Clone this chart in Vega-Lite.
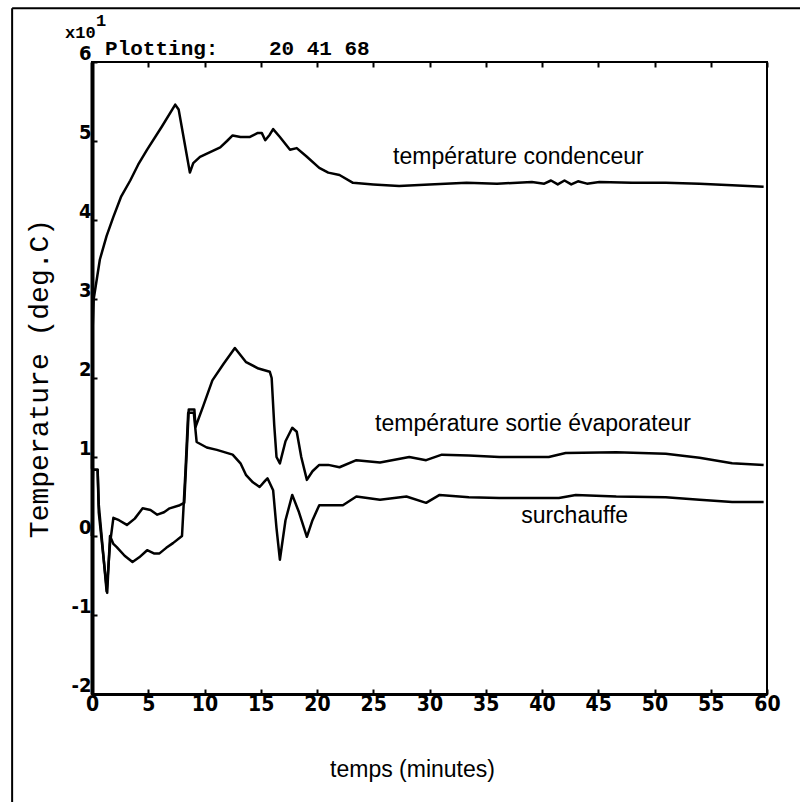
{
  "$schema": "https://vega.github.io/schema/vega-lite/v6.json",
  "autosize": "none",
  "width": 675,
  "height": 632,
  "padding": {"left": 92, "top": 62, "right": 33, "bottom": 108},
  "background": "white",
  "config": {
    "view": {"stroke": "black", "strokeWidth": 2},
    "axis": {"grid": false, "domainColor": "black", "tickColor": "black", "labelColor": "black", "titleColor": "black"}
  },
  "datasets": {
    "series": [
      {"s": "cond", "t": 0, "v": 0.85}, {"s": "cond", "t": 0.05, "v": 2.6}, {"s": "cond", "t": 0.15, "v": 3.0}, {"s": "cond", "t": 0.7, "v": 3.5}, {"s": "cond", "t": 1.3, "v": 3.8}, {"s": "cond", "t": 1.9, "v": 4.04}, {"s": "cond", "t": 2.6, "v": 4.3}, {"s": "cond", "t": 3.4, "v": 4.5}, {"s": "cond", "t": 4.1, "v": 4.7}, {"s": "cond", "t": 4.9, "v": 4.89}, {"s": "cond", "t": 6.2, "v": 5.18}, {"s": "cond", "t": 7.4, "v": 5.46}, {"s": "cond", "t": 7.7, "v": 5.4}, {"s": "cond", "t": 8.2, "v": 5.0}, {"s": "cond", "t": 8.7, "v": 4.6}, {"s": "cond", "t": 9.0, "v": 4.72}, {"s": "cond", "t": 9.6, "v": 4.8}, {"s": "cond", "t": 10.5, "v": 4.86}, {"s": "cond", "t": 11.4, "v": 4.92}, {"s": "cond", "t": 12.0, "v": 5.0}, {"s": "cond", "t": 12.5, "v": 5.07}, {"s": "cond", "t": 13.2, "v": 5.05}, {"s": "cond", "t": 14.0, "v": 5.05}, {"s": "cond", "t": 14.7, "v": 5.1}, {"s": "cond", "t": 15.1, "v": 5.1}, {"s": "cond", "t": 15.4, "v": 5.01}, {"s": "cond", "t": 15.8, "v": 5.08}, {"s": "cond", "t": 16.1, "v": 5.15}, {"s": "cond", "t": 16.7, "v": 5.05}, {"s": "cond", "t": 17.6, "v": 4.89}, {"s": "cond", "t": 18.2, "v": 4.91}, {"s": "cond", "t": 19.1, "v": 4.8}, {"s": "cond", "t": 20.2, "v": 4.66}, {"s": "cond", "t": 21.0, "v": 4.6}, {"s": "cond", "t": 22.0, "v": 4.57}, {"s": "cond", "t": 23.2, "v": 4.47}, {"s": "cond", "t": 25.0, "v": 4.45}, {"s": "cond", "t": 27.3, "v": 4.43}, {"s": "cond", "t": 30.0, "v": 4.45}, {"s": "cond", "t": 33.3, "v": 4.47}, {"s": "cond", "t": 36.0, "v": 4.46}, {"s": "cond", "t": 39.1, "v": 4.48}, {"s": "cond", "t": 40.2, "v": 4.46}, {"s": "cond", "t": 40.8, "v": 4.5}, {"s": "cond", "t": 41.4, "v": 4.45}, {"s": "cond", "t": 42.0, "v": 4.5}, {"s": "cond", "t": 42.6, "v": 4.45}, {"s": "cond", "t": 43.2, "v": 4.49}, {"s": "cond", "t": 44.0, "v": 4.46}, {"s": "cond", "t": 45.1, "v": 4.48}, {"s": "cond", "t": 48.0, "v": 4.47}, {"s": "cond", "t": 51.0, "v": 4.47}, {"s": "cond", "t": 54.0, "v": 4.46}, {"s": "cond", "t": 56.9, "v": 4.44}, {"s": "cond", "t": 59.7, "v": 4.42},

      {"s": "evap", "t": 0, "v": 0}, {"s": "evap", "t": 0.08, "v": 0.84}, {"s": "evap", "t": 0.5, "v": 0.84}, {"s": "evap", "t": 0.6, "v": 0.4}, {"s": "evap", "t": 1.3, "v": -0.7}, {"s": "evap", "t": 1.6, "v": -0.1}, {"s": "evap", "t": 1.9, "v": 0.23}, {"s": "evap", "t": 2.4, "v": 0.2}, {"s": "evap", "t": 3.1, "v": 0.14}, {"s": "evap", "t": 3.8, "v": 0.22}, {"s": "evap", "t": 4.5, "v": 0.35}, {"s": "evap", "t": 5.2, "v": 0.33}, {"s": "evap", "t": 5.8, "v": 0.27}, {"s": "evap", "t": 6.4, "v": 0.3}, {"s": "evap", "t": 6.9, "v": 0.35}, {"s": "evap", "t": 7.8, "v": 0.39}, {"s": "evap", "t": 8.2, "v": 0.42}, {"s": "evap", "t": 8.4, "v": 1.0}, {"s": "evap", "t": 8.6, "v": 1.6}, {"s": "evap", "t": 9.1, "v": 1.6}, {"s": "evap", "t": 9.2, "v": 1.38}, {"s": "evap", "t": 9.9, "v": 1.65}, {"s": "evap", "t": 10.7, "v": 1.97}, {"s": "evap", "t": 11.7, "v": 2.18}, {"s": "evap", "t": 12.7, "v": 2.38}, {"s": "evap", "t": 13.7, "v": 2.2}, {"s": "evap", "t": 14.8, "v": 2.12}, {"s": "evap", "t": 15.8, "v": 2.08}, {"s": "evap", "t": 15.97, "v": 2.0}, {"s": "evap", "t": 16.2, "v": 1.4}, {"s": "evap", "t": 16.4, "v": 1.0}, {"s": "evap", "t": 16.7, "v": 0.92}, {"s": "evap", "t": 17.2, "v": 1.2}, {"s": "evap", "t": 17.8, "v": 1.37}, {"s": "evap", "t": 18.2, "v": 1.32}, {"s": "evap", "t": 18.6, "v": 1.0}, {"s": "evap", "t": 19.1, "v": 0.71}, {"s": "evap", "t": 19.6, "v": 0.82}, {"s": "evap", "t": 20.2, "v": 0.9}, {"s": "evap", "t": 21.0, "v": 0.9}, {"s": "evap", "t": 22.0, "v": 0.87}, {"s": "evap", "t": 23.5, "v": 0.96}, {"s": "evap", "t": 25.6, "v": 0.93}, {"s": "evap", "t": 28.2, "v": 1.0}, {"s": "evap", "t": 29.7, "v": 0.96}, {"s": "evap", "t": 31.1, "v": 1.03}, {"s": "evap", "t": 33.5, "v": 1.02}, {"s": "evap", "t": 36.2, "v": 1.0}, {"s": "evap", "t": 40.6, "v": 1.0}, {"s": "evap", "t": 42.1, "v": 1.05}, {"s": "evap", "t": 46.6, "v": 1.06}, {"s": "evap", "t": 51.0, "v": 1.04}, {"s": "evap", "t": 54.0, "v": 0.99}, {"s": "evap", "t": 56.9, "v": 0.92}, {"s": "evap", "t": 59.7, "v": 0.9},

      {"s": "sur", "t": 0, "v": 0}, {"s": "sur", "t": 0.08, "v": 0.84}, {"s": "sur", "t": 0.5, "v": 0.84}, {"s": "sur", "t": 0.6, "v": 0.3}, {"s": "sur", "t": 1.35, "v": -0.72}, {"s": "sur", "t": 1.6, "v": 0.0}, {"s": "sur", "t": 1.9, "v": -0.1}, {"s": "sur", "t": 2.2, "v": -0.14}, {"s": "sur", "t": 2.9, "v": -0.25}, {"s": "sur", "t": 3.6, "v": -0.33}, {"s": "sur", "t": 4.2, "v": -0.27}, {"s": "sur", "t": 4.9, "v": -0.18}, {"s": "sur", "t": 5.5, "v": -0.22}, {"s": "sur", "t": 6.0, "v": -0.22}, {"s": "sur", "t": 6.6, "v": -0.15}, {"s": "sur", "t": 7.2, "v": -0.09}, {"s": "sur", "t": 8.0, "v": 0.0}, {"s": "sur", "t": 8.3, "v": 0.8}, {"s": "sur", "t": 8.55, "v": 1.56}, {"s": "sur", "t": 9.05, "v": 1.56}, {"s": "sur", "t": 9.3, "v": 1.19}, {"s": "sur", "t": 10.2, "v": 1.12}, {"s": "sur", "t": 11.1, "v": 1.09}, {"s": "sur", "t": 12.5, "v": 1.03}, {"s": "sur", "t": 13.2, "v": 0.92}, {"s": "sur", "t": 13.7, "v": 0.77}, {"s": "sur", "t": 14.3, "v": 0.68}, {"s": "sur", "t": 14.9, "v": 0.62}, {"s": "sur", "t": 15.4, "v": 0.7}, {"s": "sur", "t": 15.6, "v": 0.73}, {"s": "sur", "t": 16.1, "v": 0.58}, {"s": "sur", "t": 16.4, "v": 0.1}, {"s": "sur", "t": 16.7, "v": -0.3}, {"s": "sur", "t": 17.2, "v": 0.2}, {"s": "sur", "t": 17.8, "v": 0.52}, {"s": "sur", "t": 18.4, "v": 0.3}, {"s": "sur", "t": 19.1, "v": -0.01}, {"s": "sur", "t": 19.6, "v": 0.2}, {"s": "sur", "t": 20.2, "v": 0.39}, {"s": "sur", "t": 22.3, "v": 0.39}, {"s": "sur", "t": 23.5, "v": 0.5}, {"s": "sur", "t": 25.6, "v": 0.46}, {"s": "sur", "t": 27.95, "v": 0.5}, {"s": "sur", "t": 29.7, "v": 0.42}, {"s": "sur", "t": 30.9, "v": 0.52}, {"s": "sur", "t": 33.5, "v": 0.49}, {"s": "sur", "t": 36.2, "v": 0.48}, {"s": "sur", "t": 41.5, "v": 0.48}, {"s": "sur", "t": 43.0, "v": 0.52}, {"s": "sur", "t": 46.6, "v": 0.5}, {"s": "sur", "t": 51.0, "v": 0.49}, {"s": "sur", "t": 54.0, "v": 0.46}, {"s": "sur", "t": 56.9, "v": 0.43}, {"s": "sur", "t": 59.7, "v": 0.43}
    ],
    "labels": [
      {"label": "température condenceur", "t": 37.9, "v": 4.8},
      {"label": "température sortie évaporateur", "t": 39.2, "v": 1.42},
      {"label": "surchauffe", "t": 42.9, "v": 0.25}
    ],
    "exponent": [
      {"label": "x10", "t": -2.4, "v": 6.31},
      {"label": "1", "t": 0.35, "v": 6.46}
    ],
    "header": [
      {"label": "Plotting:\u00a0\u00a0\u00a0\u00a020 41 68", "t": 1.16, "v": 6.09}
    ],
    "frame": [
      {"t": -7.1, "t2": -7.1, "v": 6.68, "v2": -3.4},
      {"t": -7.1, "t2": 63.0, "v": 6.68, "v2": 6.68}
    ]
  },
  "resolve": {"axis": {"x": "independent", "y": "independent"}},
  "layer": [
    {
      "mark": {"type": "rule", "color": "black", "strokeWidth": 2},
      "encoding": {
        "y": {"datum": 0, "type": "quantitative", "scale": {"domain": [-2, 6], "nice": false}, "axis": null}
      }
    },
    {
      "data": {"name": "series"},
      "mark": {"type": "line", "color": "black", "strokeWidth": 2.5, "strokeJoin": "round"},
      "encoding": {
        "x": {
          "field": "t", "type": "quantitative",
          "scale": {"domain": [0, 60], "nice": false, "zero": false},
          "axis": {
            "values": [0, 5, 10, 15, 20, 25, 30, 35, 40, 45, 50, 55, 60],
            "title": "temps (minutes)",
            "titleFont": "Liberation Sans", "titleFontSize": 23, "titleFontWeight": "normal",
            "titlePadding": 44,
            "titleX": 320,
            "labelFont": "Liberation Sans Narrow, DejaVu Sans Condensed, sans-serif",
            "labelFontSize": 21, "labelFontWeight": "bold",
            "labelPadding": 4,
            "labelFlush": false,
            "domainWidth": 3,
            "tickSize": -5, "tickWidth": 2
          }
        },
        "y": {
          "field": "v", "type": "quantitative",
          "scale": {"domain": [-2, 6], "nice": false, "zero": false},
          "axis": {
            "values": [-2, -1, 0, 1, 2, 3, 4, 5, 6],
            "labelExpr": "'' + datum.value",
            "title": "Temperature (deg.C)",
            "titleFont": "Liberation Mono", "titleFontSize": 28, "titleFontWeight": "normal",
            "titlePadding": 18,
            "labelFont": "Liberation Sans Narrow, DejaVu Sans Condensed, sans-serif",
            "labelFontSize": 20, "labelFontWeight": "bold",
            "labelBaseline": "alphabetic",
            "labelOffset": -3,
            "labelPadding": 6,
            "labelFlush": false,
            "domainWidth": 4,
            "tickSize": -5, "tickWidth": 2
          }
        },
        "detail": {"field": "s", "type": "nominal"}
      }
    },
    {
      "data": {"name": "series"},
      "mark": {"type": "point", "opacity": 0},
      "encoding": {
        "x": {"field": "t", "type": "quantitative", "axis": {"orient": "top", "labels": false, "title": null, "domain": false, "values": [0, 5, 10, 15, 20, 25, 30, 35, 40, 45, 50, 55, 60], "tickSize": -5, "tickWidth": 2}},
        "y": {"field": "v", "type": "quantitative", "axis": {"orient": "right", "labels": false, "title": null, "domain": false, "ticks": false}}
      }
    },
    {
      "data": {"name": "labels"},
      "mark": {"type": "text", "font": "Liberation Sans", "fontSize": 23, "color": "black", "align": "center", "baseline": "middle"},
      "encoding": {
        "x": {"field": "t", "type": "quantitative", "axis": null},
        "y": {"field": "v", "type": "quantitative", "axis": null},
        "text": {"field": "label"}
      }
    },
    {
      "data": {"name": "exponent"},
      "mark": {"type": "text", "font": "Liberation Mono", "fontSize": 17, "fontWeight": "bold", "color": "black", "align": "left", "baseline": "alphabetic", "clip": false},
      "encoding": {
        "x": {"field": "t", "type": "quantitative", "axis": null},
        "y": {"field": "v", "type": "quantitative", "axis": null},
        "text": {"field": "label"}
      }
    },
    {
      "data": {"name": "header"},
      "mark": {"type": "text", "font": "Liberation Mono", "fontSize": 21, "fontWeight": "bold", "color": "black", "align": "left", "baseline": "alphabetic", "clip": false},
      "encoding": {
        "x": {"field": "t", "type": "quantitative", "axis": null},
        "y": {"field": "v", "type": "quantitative", "axis": null},
        "text": {"field": "label"}
      }
    },
    {
      "data": {"name": "frame"},
      "mark": {"type": "rule", "color": "black", "strokeWidth": 2, "clip": false},
      "encoding": {
        "x": {"field": "t", "type": "quantitative", "axis": null},
        "x2": {"field": "t2"},
        "y": {"field": "v", "type": "quantitative", "axis": null},
        "y2": {"field": "v2"}
      }
    }
  ]
}
